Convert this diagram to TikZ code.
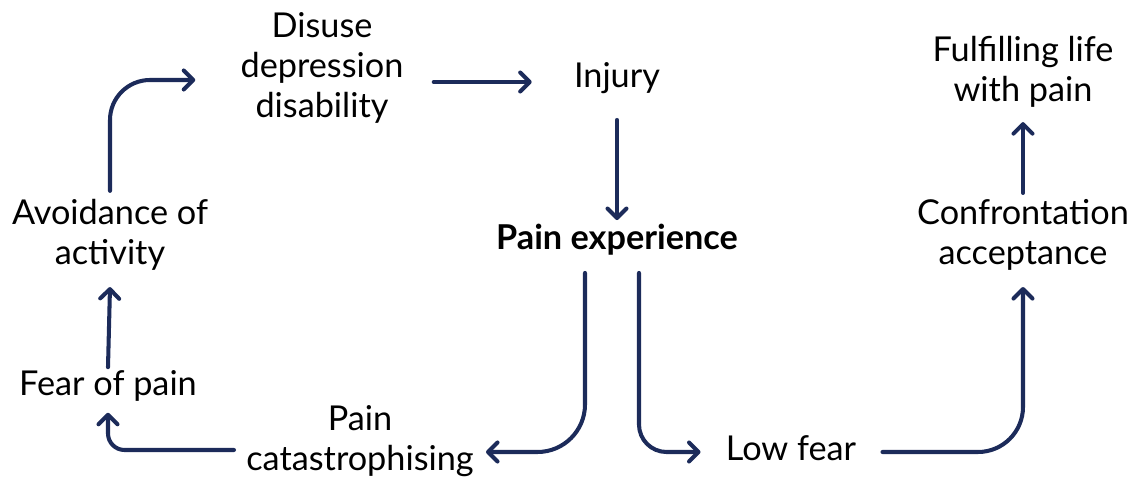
\documentclass[tikz,border=0pt]{standalone}
\usepackage{fontspec}
\setmainfont{Lato}
\usepackage{tikz}
\usetikzlibrary{arrows.meta,calc}
\definecolor{navy}{HTML}{1C2B5A}

\begin{document}
\begin{tikzpicture}[
    x=0.02cm,y=-0.02cm,
    font=\fontsize{19.5}{23}\selectfont,
    stage/.style={align=center,inner sep=0pt,text=black},
    arr/.style={draw=navy,line width=2.3pt,line cap=round,line join=round,
                -{Straight Barb[length=1.9mm,width=3.8mm,round]}}
  ]
  \useasboundingbox (0,0) rectangle (1134,479);

  % cycle of fear
  \node[stage] (disuse)  at (322,68)  {Disuse\\depression\\disability};
  \node[stage] (injury)  at (617,78)  {Injury};
  \node[stage,font=\fontsize{19.5}{23}\selectfont\bfseries] (pain) at (617,240) {Pain experience};
  \node[stage] (avoid)   at (110,235) {Avoidance of\\activity};
  \node[stage] (fear)    at (108,386) {Fear of pain};
  \node[stage] (catas)   at (360,441) {Pain\\catastrophising};

  % recovery
  \node[stage] (lowfear)  at (791,448) {Low fear};
  \node[stage] (confront) at (1023,235) {Confrontation\\acceptance};
  \node[stage] (fulfil)   at (1023,72)  {Fulfilling life\\with pain};

  % flows
  \draw[arr,rounded corners=0.8cm] ($(avoid.north)+(0,-8)$) |- ($(disuse.west)+(-45,12)$);
  \draw[arr] ($(disuse.east)+(30,14)$) -- ($(injury.west)+(-42,4)$);
  \draw[arr] ($(injury.south)+(0,26)$) -- ($(pain.north)+(0,-4)$);
  \draw[arr,rounded corners=0.95cm] ($(pain.south)+(-32,17)$) |- ($(catas.east)+(12,11)$);
  \draw[arr,rounded corners=0.55cm] ($(pain.south)+(22,17)$) |- ($(lowfear.west)+(-25,4)$);
  \draw[arr,rounded corners=0.9cm] ($(lowfear.east)+(26,4)$) -| ($(confront.south)+(0,16)$);
  \draw[arr] ($(confront.north)+(0,-6)$) -- ($(fulfil.south)+(0,14)$);
  \draw[arr,rounded corners=0.33cm] ($(catas.west)+(-12,9)$) -| ($(fear.south)+(0,11)$);
  \draw[arr] ($(fear.north)+(0,-3)$) -- ($(avoid.south)+(0,16)$);

\end{tikzpicture}
\end{document}
